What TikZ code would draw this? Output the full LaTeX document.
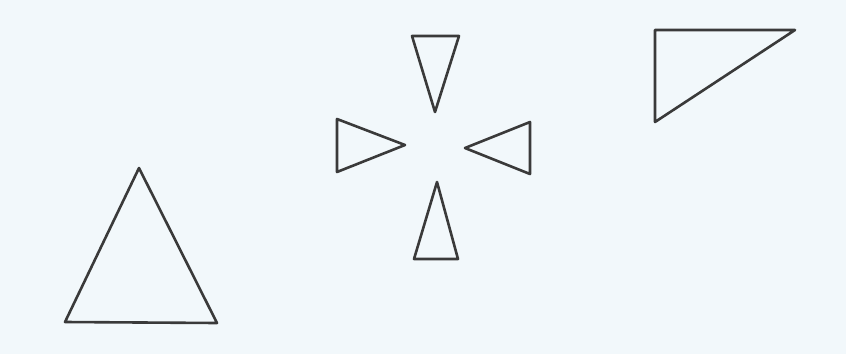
\documentclass[tikz,border=0pt]{standalone}
\definecolor{bg}{HTML}{F2F8FB}
\definecolor{ink}{HTML}{3A3A3A}
\tikzset{tri/.style={draw=ink, line width=2.6pt, line join=round, line cap=round}}
\begin{document}
\begin{tikzpicture}[x=1pt,y=-1pt]
\fill[bg] (0,0) rectangle (846,354);
\useasboundingbox (0,0) rectangle (846,354);
% large triangle
\draw[tri] (139,168) -- (65,322) -- (217,323) -- cycle;
% top, pointing down
\draw[tri] (412,36) -- (459,36) -- (435,112) -- cycle;
% left, pointing right
\draw[tri] (337,119) -- (405,145) -- (337,172) -- cycle;
% right, pointing left
\draw[tri] (465,148) -- (530,122) -- (530,174) -- cycle;
% bottom, pointing up
\draw[tri] (437,182) -- (458,259) -- (414,259) -- cycle;
% right-angled triangle
\draw[tri] (655,30) -- (795,30) -- (655,122) -- cycle;
\end{tikzpicture}
\end{document}
